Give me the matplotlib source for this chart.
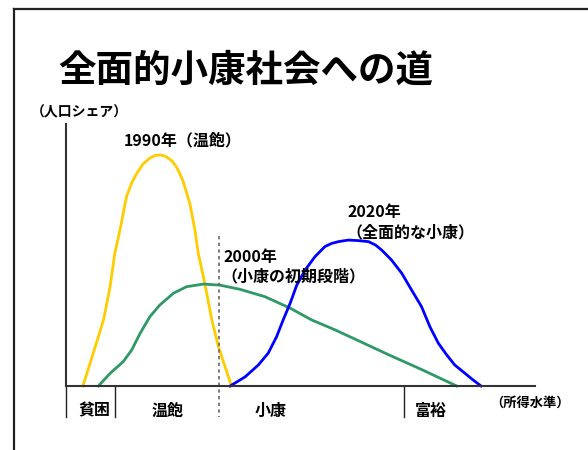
import matplotlib
matplotlib.use('Agg')
import matplotlib.pyplot as plt
from matplotlib.lines import Line2D

plt.rcParams['font.family'] = ['Noto Sans CJK JP', 'DejaVu Sans']

TITLE = '全面的小康社会への道'
Y_LABEL = '（人口シェア）'
X_LABEL = '（所得水準）'

# income level (0-100) and population share (0-100)
X_1990 = [3.6, 5.8, 8.0, 9.4, 10.4, 11.5, 12.9, 14.0, 15.1, 16.4, 17.9, 19.0, 20.2,
          21.3, 22.6, 23.7, 24.9, 26.4, 27.5, 28.2, 29.3, 30.0, 31.1, 32.5, 33.9, 35.3]
Y_1990 = [0, 12.5, 25.2, 37.9, 50.6, 59.5, 72.3, 77.5, 81.2, 84.7, 87.0, 88.0, 88.2,
          87.6, 85.9, 83.2, 78.5, 69.7, 59.5, 50.6, 41.7, 35.4, 25.2, 15.0, 7.4, 0]

X_2000 = [6.9, 9.4, 12.2, 14.0, 15.8, 17.9, 20.0, 22.9, 25.7, 29.3, 32.8, 37.1,
          42.4, 47.8, 52.4, 57.4, 62.7, 68.7, 75.8, 83.3]
Y_2000 = [0, 4.8, 9.3, 13.7, 20.1, 26.5, 30.9, 35.4, 37.9, 38.9, 38.5, 36.9,
          34.1, 29.7, 25.2, 21.4, 17.0, 12.0, 6.3, 0]

X_2020 = [35.0, 38.2, 41.0, 43.1, 44.9, 46.3, 47.8, 49.2, 51.0, 53.1, 55.2, 56.6,
          58.1, 60.2, 62.3, 64.5, 66.0, 67.3, 69.4, 71.6, 73.7, 75.8, 77.6, 79.4,
          81.2, 82.9, 85.1, 86.8, 88.5]
Y_2020 = [0, 3.5, 8.0, 12.5, 18.8, 25.2, 31.6, 38.5, 44.3, 49.4, 53.2, 54.4,
          55.1, 55.7, 55.5, 55.1, 53.8, 51.9, 48.1, 43.0, 36.6, 30.3, 22.6, 16.3,
          11.8, 8.0, 4.8, 2.3, 0]

CATEGORIES = ['貧困', '温飽', '小康', '富裕']
CATEGORY_CENTERS = [6.0, 21.6, 43.7, 77.8]
CATEGORY_BOUNDS = [0, 10.4, 72.1]
MARKER_2000 = 32.6

fig = plt.figure(figsize=(5.88, 4.5), dpi=100)

# page frame (only top and left edges are visible)
fig.add_artist(Line2D([14 / 588, 14 / 588], [0, 1 - 9 / 450], transform=fig.transFigure,
                      color='#222222', lw=1.6))
fig.add_artist(Line2D([14 / 588, 1], [1 - 9 / 450, 1 - 9 / 450], transform=fig.transFigure,
                      color='#222222', lw=1.6))

fig.text(58 / 588, 1 - 70 / 450, TITLE, fontsize=27, fontweight='bold',
         ha='left', va='center')
fig.text(31 / 588, 1 - 112 / 450, Y_LABEL, fontsize=10, fontweight='bold',
         ha='left', va='center')

ax = fig.add_axes([66 / 588, 1 - 386 / 450, (535 - 66) / 588, (386 - 124) / 450])
ax.set_xlim(0, 100)
ax.set_ylim(0, 100)
ax.set_xticks([])
ax.set_yticks([])
for side in ['top', 'right']:
    ax.spines[side].set_visible(False)
for side in ['left', 'bottom']:
    ax.spines[side].set_color('#333333')
    ax.spines[side].set_linewidth(1.5)

ax.plot(X_1990, Y_1990, color='#FFCC00', lw=2, clip_on=False, solid_joinstyle='round')
ax.plot(X_2000, Y_2000, color='#2E9966', lw=2, clip_on=False, solid_joinstyle='round')
ax.plot(X_2020, Y_2020, color='#0000FF', lw=2, clip_on=False, solid_joinstyle='round')

ax.plot([MARKER_2000, MARKER_2000], [57.3, -11.8], color='#666666', lw=1.2,
        ls=(0, (2, 2)), clip_on=False)
for b in CATEGORY_BOUNDS:
    ax.plot([b, b], [0, -11.8], color='#222222', lw=1.0, clip_on=False)

for name, cx in zip(CATEGORIES, CATEGORY_CENTERS):
    ax.text(cx, -9.5, name, fontsize=11.5, fontweight='bold', ha='center', va='center')
ax.text(90.5, -6.5, X_LABEL, fontsize=9.5, fontweight='bold', ha='left', va='center',
        clip_on=False)

ax.text(12.4, 93.9, '1990年（温飽）', fontsize=11.5, fontweight='bold', ha='left', va='center')
ax.text(33.5, 49.2, '2000年', fontsize=11.5, fontweight='bold', ha='left', va='center')
ax.text(33.1, 42.0, '（小康の初期段階）', fontsize=11.5, fontweight='bold', ha='left', va='center')
ax.text(60.1, 66.4, '2020年', fontsize=11.5, fontweight='bold', ha='left', va='center')
ax.text(59.7, 58.8, '（全面的な小康）', fontsize=11.5, fontweight='bold', ha='left', va='center')

fig.savefig('out.png', dpi=100)
